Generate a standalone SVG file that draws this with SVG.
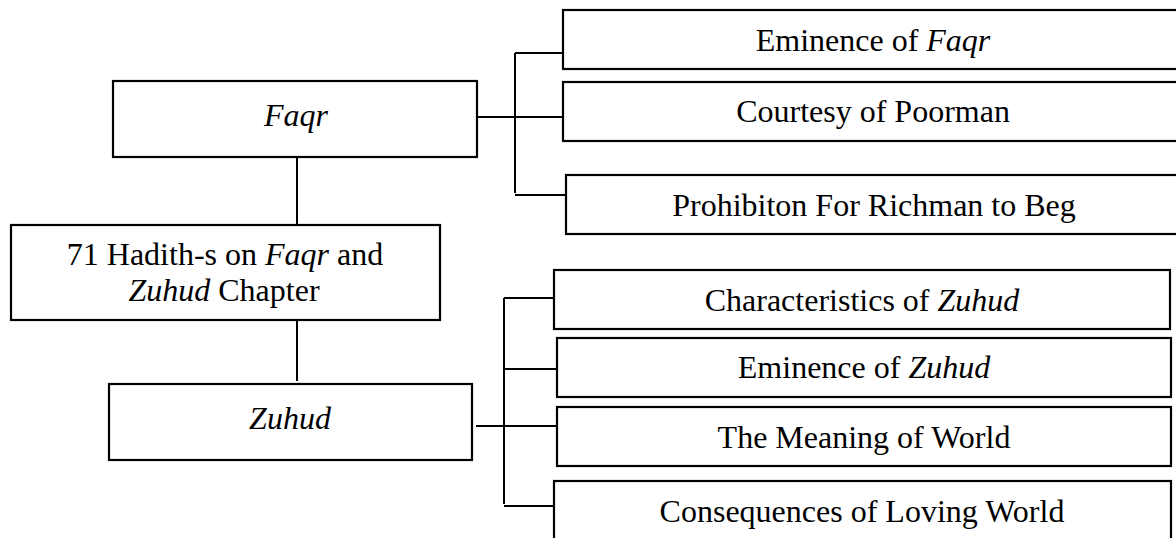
<svg xmlns="http://www.w3.org/2000/svg" width="1176" height="538" viewBox="0 0 1176 538">
<style>
.box{fill:#fff;stroke:#000;stroke-width:2.2}
.ln{stroke:#000;stroke-width:2;fill:none}
text{font-family:"Liberation Serif","Times New Roman",serif;font-size:32px;fill:#000;text-anchor:middle}
.it{font-style:italic}
</style>
<rect width="1176" height="538" fill="#fff"/>
<g id="connectors">
<path class="ln" d="M297 157V225M297 320V381"/>
<path class="ln" d="M477 117H562M515 53V193M515 53H563M515 195H566"/>
<path class="ln" d="M476 426H559M504 298V504M504 298H554M504 369H557M504 506H554"/>
</g>
<g id="faqr"><rect class="box" x="113" y="81" width="364" height="76"/><text x="296" y="126" class="it">Faqr</text></g>
<g id="hadith"><rect class="box" x="11" y="225" width="429" height="95"/><text x="225" y="265">71 Hadith-s on <tspan class="it">Faqr</tspan> and</text><text x="224" y="301"><tspan class="it">Zuhud</tspan> Chapter</text></g>
<g id="zuhud"><rect class="box" x="109" y="384" width="363" height="76"/><text x="290" y="429" class="it">Zuhud</text></g>
<g id="eminence-faqr"><rect class="box" x="563" y="10" width="630" height="59"/><text x="873" y="51">Eminence of <tspan class="it">Faqr</tspan></text></g>
<g id="courtesy"><rect class="box" x="563" y="82" width="630" height="59"/><text x="873" y="122">Courtesy of Poorman</text></g>
<g id="prohibition"><rect class="box" x="566" y="175" width="630" height="59"/><text x="874" y="216">Prohibiton For Richman to Beg</text></g>
<g id="characteristics"><rect class="box" x="554" y="270" width="616" height="59"/><text x="862" y="311">Characteristics of <tspan class="it">Zuhud</tspan></text></g>
<g id="eminence-zuhud"><rect class="box" x="557" y="338" width="614" height="59"/><text x="864" y="378">Eminence of <tspan class="it">Zuhud</tspan></text></g>
<g id="meaning"><rect class="box" x="557" y="407" width="614" height="59"/><text x="864" y="448">The Meaning of World</text></g>
<g id="consequences"><rect class="box" x="554" y="481" width="617" height="62"/><text x="862" y="522">Consequences of Loving World</text></g>
</svg>
